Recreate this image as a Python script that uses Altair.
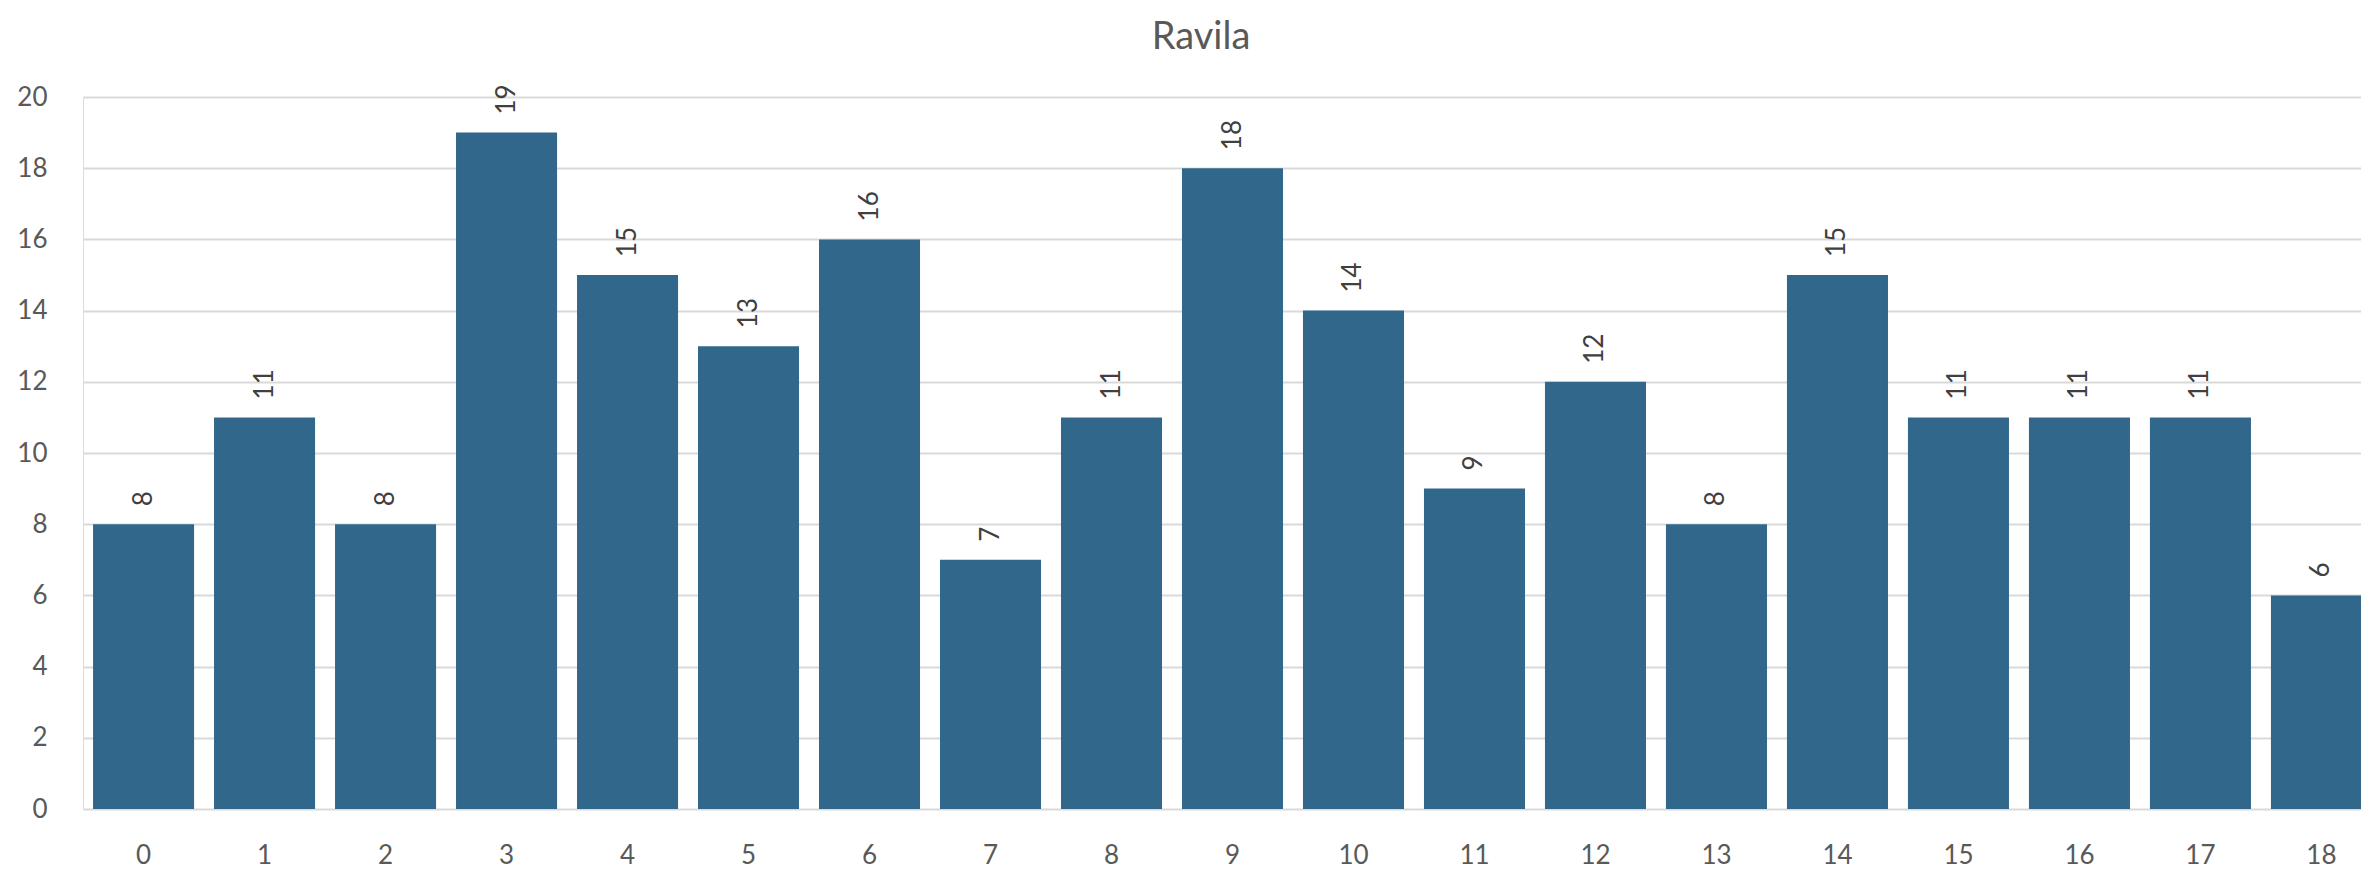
import altair as alt
import pandas as pd

categories = [str(i) for i in range(19)]
values = [8, 11, 8, 19, 15, 13, 16, 7, 11, 18, 14, 9, 12, 8, 15, 11, 11, 11, 6]
y_ticks = [0, 2, 4, 6, 8, 10, 12, 14, 16, 18, 20]

df = pd.DataFrame({"cat": categories, "val": values})

FONT = "Lato"
x_enc = alt.X(
    "cat:N",
    sort=categories,
    scale=alt.Scale(paddingInner=0.165, paddingOuter=0.083, range=[0, 2299]),
    axis=alt.Axis(
        title=None, labelAngle=0, ticks=False, domain=False, grid=False,
        labelFontSize=26, labelColor="#595959", labelFont=FONT,
        labelBaseline="alphabetic", labelPadding=54,
    ),
)
y_enc = alt.Y(
    "val:Q",
    scale=alt.Scale(domain=[0, 20], nice=False),
    axis=alt.Axis(
        title=None, values=y_ticks, ticks=False, domain=False,
        gridColor="#d9d9d9", gridWidth=2,
        labelFontSize=26, labelColor="#595959", labelFont=FONT, labelPadding=36,
    ),
)

bars = alt.Chart(df).mark_bar(color="#31678a").encode(x=x_enc, y=y_enc)
labels = alt.Chart(df).mark_text(
    angle=270, align="left", baseline="middle", dx=18,
    fontSize=26, font=FONT, color="#404040",
).encode(x=alt.X("cat:N", sort=categories), y="val:Q", text="val:Q")

chart = (
    alt.layer(bars, labels)
    .properties(
        width=2278,
        height=712,
        title=alt.TitleParams(
            "Ravila", fontSize=38, font=FONT, fontWeight="normal",
            color="#595959", anchor="middle", baseline="alphabetic",
            dx=-21, dy=13, offset=10,
        ),
        autosize=alt.AutoSizeParams(type="none"),
        padding={"left": 75, "top": 89, "right": 0, "bottom": 62},
    )
    .configure_view(stroke=None)
    .configure(background="white")
)

chart.save("out.html", embed_options={"renderer": "svg", "actions": False})
